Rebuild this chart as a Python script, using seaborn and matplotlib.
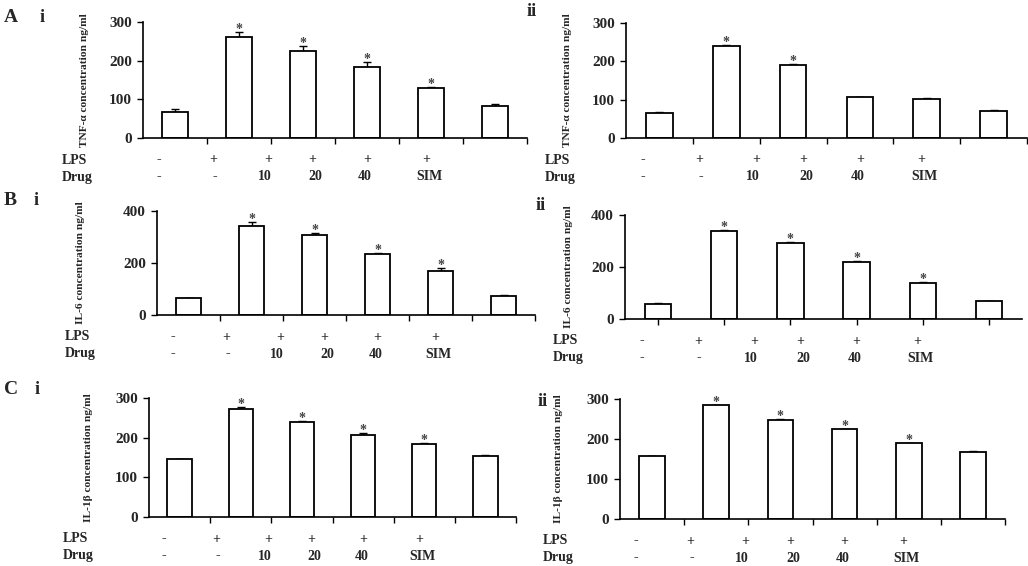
import numpy as np
import pandas as pd
import matplotlib
matplotlib.use("Agg")
import matplotlib.pyplot as plt
import seaborn as sns

# ---------------------------------------------------------
# data (6 groups per panel)
# ---------------------------------------------------------
groups = ["1", "2", "3", "4", "5", "6"]
lps_row = ["-", "+", "+", "+", "+", "+"]
drug_row = ["-", "-", "10", "20", "40", "SIM"]

tnf_i = [68, 262, 225, 184, 129, 83]
tnf_i_err = [6, 11, 13, 12, 4, 4]
tnf_ii = [65, 239, 190, 107, 103, 71]
tnf_ii_err = [2, 3, 3, 1, 2, 2]

il6_i = [64, 341, 309, 234, 169, 74]
il6_i_err = [1, 15, 5, 4, 13, 4]
il6_ii = [58, 340, 294, 221, 138, 69]
il6_ii_err = [2, 2, 3, 4, 4, 2]

il1b_i = [145, 273, 239, 207, 185, 155]
il1b_i_err = [2, 4, 3, 6, 2, 2]
il1b_ii = [157, 285, 248, 225, 190, 168]
il1b_ii_err = [1, 1, 1, 1, 1, 1]

stars_tnf_ii = [0, 1, 1, 0, 0, 0]
stars_main = [0, 1, 1, 1, 1, 0]

# ---------------------------------------------------------
# layout (pixels of a 1028x566 figure)
# ---------------------------------------------------------
W, H = 1028, 566
LPS_X = [-0.25, 0.6, 1.45, 2.15, 3.0, 3.92]
DRUG_X = [-0.25, 0.62, 1.4, 2.2, 2.97, 3.97]

panels = [
    # letter, roman, values, errors, stars, ylabel, yticks, (L, R, T, B), ylab offset, ticks at centre, row label x, letter pos, roman pos
    ("A", "i", tnf_i, tnf_i_err, stars_main, "TNF-\u03b1 concentration ng/ml", [0, 100, 200, 300],
     (143, 527, 22, 138), 54, False, 62, (4, 17), (42, 17)),
    (None, "ii", tnf_ii, tnf_ii_err, stars_tnf_ii, "TNF-\u03b1 concentration ng/ml", [0, 100, 200, 300],
     (626, 1027, 23, 138), 54, False, 545, None, (532, 12)),
    ("B", "i", il6_i, il6_i_err, stars_main, "IL-6 concentration ng/ml", [0, 200, 400],
     (157, 535, 211, 315), 72, False, 65, (4, 200), (36, 200)),
    (None, "ii", il6_ii, il6_ii_err, stars_main, "IL-6 concentration ng/ml", [0, 200, 400],
     (625, 1022, 215, 319), 52, True, 553, None, (541, 206)),
    ("C", "i", il1b_i, il1b_i_err, stars_main, "IL-1\u03b2 concentration ng/ml", [0, 100, 200, 300],
     (149, 516, 398, 517), 56, False, 63, (4, 390), (37, 390)),
    (None, "ii", il1b_ii, il1b_ii_err, stars_main, "IL-1\u03b2 concentration ng/ml", [0, 100, 200, 300],
     (620, 1005, 399, 519), 57, False, 543, None, (543, 402)),
]

sns.set_theme(style="ticks")
plt.rcParams["font.family"] = ["Liberation Serif", "DejaVu Serif"]
plt.rcParams["font.weight"] = "bold"

fig = plt.figure(figsize=(W / 100, H / 100), dpi=100)

for letter, roman, vals, errs, stars, ylab, yticks, (L, R, T, B), yoff, centre_ticks, rowx, lpos, rpos in panels:
    ax = fig.add_axes([L / W, 1 - B / H, (R - L) / W, (B - T) / H])
    df = pd.DataFrame({"group": groups, "value": vals})
    sns.barplot(data=df, x="group", y="value", color="white", edgecolor="black",
                linewidth=1.3, width=0.4, errorbar=None, ax=ax, zorder=2)
    x = np.arange(len(groups))
    ax.errorbar(x, vals, yerr=[np.zeros(len(errs)), errs], fmt="none", ecolor="black",
                elinewidth=1, capsize=3, capthick=1, zorder=1)
    for xi, v, e, s in zip(x, vals, errs, stars):
        if s:
            ax.annotate("*", xy=(xi, v + e), xytext=(0, -1), textcoords="offset pixels",
                        ha="center", va="baseline", fontsize=10, color="#444444",
                        annotation_clip=False)

    ax.set_xlim(-0.5, len(groups) - 0.5)
    ax.set_ylim(0, yticks[-1])
    ax.set_yticks(yticks)
    ax.set_yticklabels([str(t) for t in yticks], fontsize=11, fontweight="bold")
    if centre_ticks:
        ax.set_xticks(x)
    else:
        ax.set_xticks(np.arange(0.5, len(groups), 1.0))
    ax.set_xticklabels([])
    ax.set_xlabel("")
    ax.set_ylabel(ylab, fontsize=8.2, fontweight="bold")
    ax.yaxis.set_label_coords(-yoff / (R - L), 0.5)
    ax.tick_params(axis="both", direction="out", length=4, width=1, color="black", pad=4)
    sns.despine(ax=ax)
    for sp in ("left", "bottom"):
        ax.spines[sp].set_linewidth(1.2)
        ax.spines[sp].set_color("black")
    ax.set_facecolor("white")

    # treatment rows under the axis
    for xi, lab in zip(LPS_X, lps_row):
        ax.annotate(lab, xy=(xi, 0), xycoords=("data", "axes fraction"), xytext=(0, -22),
                    textcoords="offset pixels", ha="center", va="center", fontsize=10,
                    fontweight="bold", annotation_clip=False)
    for xi, lab in zip(DRUG_X, drug_row):
        ax.annotate(lab, xy=(xi, 0), xycoords=("data", "axes fraction"), xytext=(0, -39),
                    textcoords="offset pixels", ha="center", va="center", fontsize=10,
                    fontweight="bold", annotation_clip=False)
    fig.text(rowx / W, 1 - (B + 22) / H, "LPS", ha="left", va="center", fontsize=10, fontweight="bold")
    fig.text(rowx / W, 1 - (B + 39) / H, "Drug", ha="left", va="center", fontsize=10, fontweight="bold")

    if letter:
        fig.text(lpos[0] / W, 1 - lpos[1] / H, letter, ha="left", va="center", fontsize=14, fontweight="bold")
    fig.text(rpos[0] / W, 1 - rpos[1] / H, roman, ha="center", va="center", fontsize=13, fontweight="bold")

fig.savefig("out.png", dpi=100, facecolor="white")
